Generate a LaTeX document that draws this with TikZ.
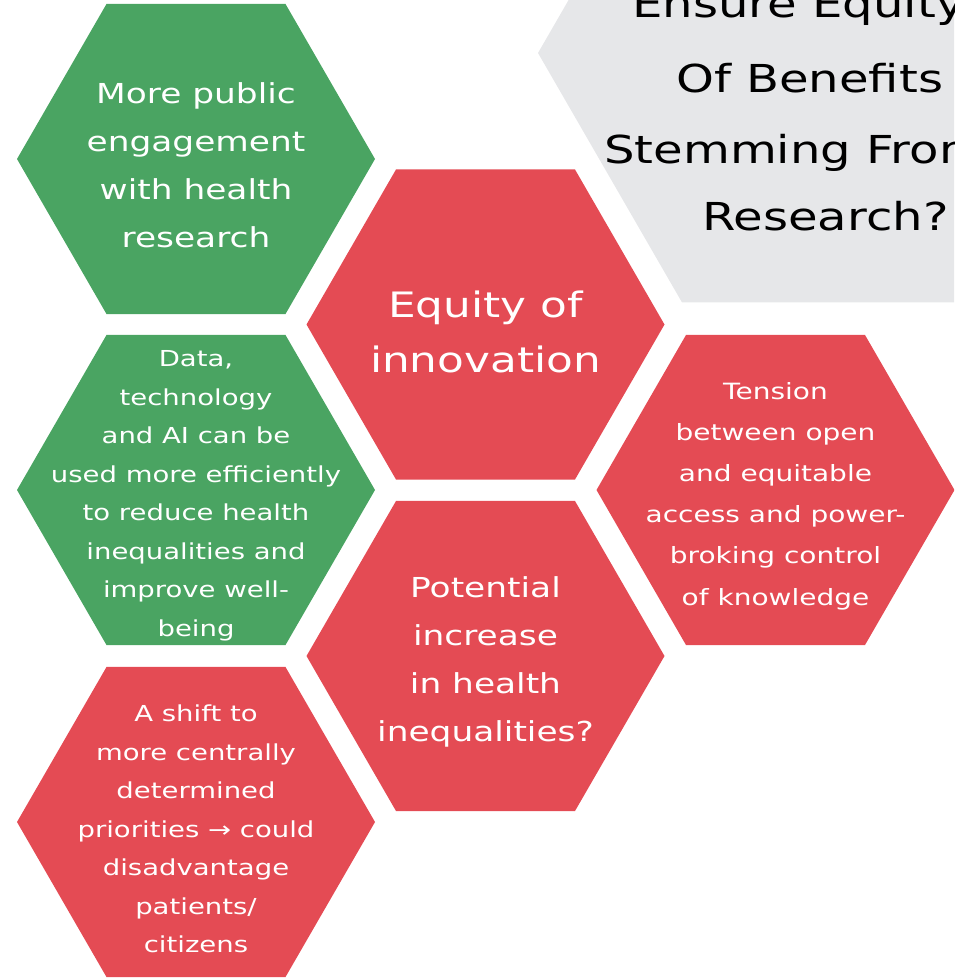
\documentclass[tikz,border=0pt]{standalone}
\usepackage{fontspec}
\setmainfont{DejaVu Sans}[FakeStretch=1.25]
\usetikzlibrary{shapes.geometric}
\definecolor{hexgreen}{HTML}{4AA462}
\definecolor{hexred}{HTML}{E44B54}
\definecolor{hexgray}{HTML}{E6E7E9}
\tikzset{
  hexa/.style={shape=regular polygon, regular polygon sides=6,
    inner sep=0pt, outer sep=0pt, draw=none, minimum size=#1},
  hexa/.default=358pt,
  txt/.style={align=center, text=white, inner sep=0pt},
  gtxt/.style={anchor=base west, inner sep=0pt, font=\fontsize{38.5}{70}\selectfont},
}
\begin{document}
\begin{tikzpicture}[x=1pt,y=-1pt]
\useasboundingbox (0,0) rectangle (954,980);
\clip (0,0) rectangle (954,980);
% gray title hexagon
\node[hexa=576pt, fill=hexgray] (hg) at (826,53) {};
\node[gtxt] (g1) at (632,17) {Ensure Equity};
\node[gtxt] (g2) at (676,92) {Of Benefits};
\node[gtxt] (g3) at (604,163) {Stemming From};
\node[gtxt] (g4) at (702,230) {Research?};
% hexagons
\node[hexa, fill=hexgreen] (h1) at (196,159) {};
\node[hexa, fill=hexred] (h2) at (485.5,324.5) {};
\node[hexa, fill=hexgreen] (h3) at (196,490) {};
\node[hexa, fill=hexred] (h4) at (775.5,490) {};
\node[hexa, fill=hexred] (h5) at (485.5,656) {};
\node[hexa, fill=hexred] (h6) at (196,822) {};
% texts
\node[txt, font=\fontsize{27.5}{48}\selectfont] (t1) at ([yshift=-6pt]h1.center)
  {More public\\engagement\\with health\\research};
\node[txt, font=\fontsize{35}{55}\selectfont] (t2) at ([yshift=-7pt]h2.center)
  {Equity of\\innovation};
\node[txt, font=\fontsize{22}{38.5}\selectfont] (t3) at ([yshift=-6pt]h3.center)
  {Data,\\technology\\and AI can be\\used more efficiently\\to reduce health\\inequalities and\\improve well-\\being};
\node[txt, font=\fontsize{22.4}{41.2}\selectfont] (t4) at ([yshift=-6pt]h4.center)
  {Tension\\between open\\and equitable\\access and power-\\broking control\\of knowledge};
\node[txt, font=\fontsize{27.5}{48}\selectfont] (t5) at ([yshift=-6pt]h5.center)
  {Potential\\increase\\in health\\inequalities?};
\node[txt, font=\fontsize{22}{38.5}\selectfont] (t6) at ([yshift=-7pt]h6.center)
  {A shift to\\more centrally\\determined\\priorities → could\\disadvantage\\patients/\\citizens};
\end{tikzpicture}
\end{document}
